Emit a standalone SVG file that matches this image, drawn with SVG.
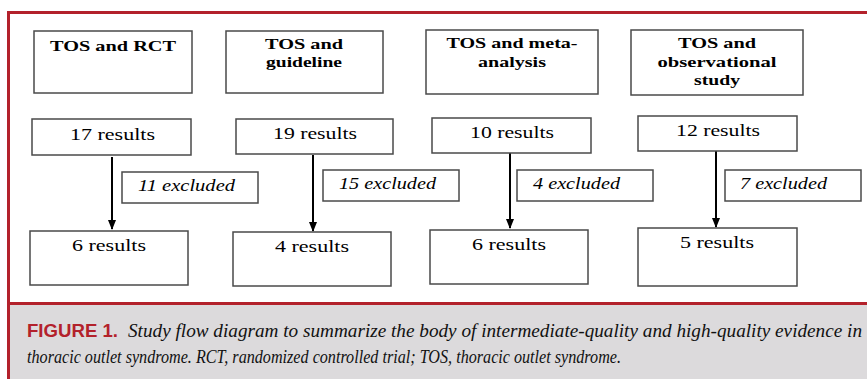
<svg xmlns="http://www.w3.org/2000/svg" width="867" height="379" viewBox="0 0 867 379">
<style>
.box{fill:#fff;stroke:#4a4a4a;stroke-width:1.5}
.sf{font-family:'Liberation Serif','Times New Roman',serif}
.hd{font-weight:bold;font-size:15px;fill:#000;text-anchor:middle}
.rs{font-size:17px;fill:#000;text-anchor:middle}
.ex{font-style:italic;font-size:17px;fill:#000;text-anchor:middle}
.arr{stroke:#000;stroke-width:2;fill:none;marker-end:url(#ah)}
.cap{font-style:italic;font-size:19px;fill:#111}
</style>
<defs>
<marker id="ah" markerWidth="10" markerHeight="8" refX="9" refY="4" orient="auto" markerUnits="userSpaceOnUse">
<path d="M0,0 L10,4 L0,8 Z" fill="#000"/>
</marker>
</defs>
<rect x="0" y="0" width="867" height="379" fill="#fff"/>
<rect x="9" y="305" width="858" height="74" fill="#dcdadc"/>
<path d="M8.5,379 V12.5 H867" fill="none" stroke="#b3212b" stroke-width="3"/>
<line x1="9" y1="303.5" x2="867" y2="303.5" stroke="#b3212b" stroke-width="3"/>

<g id="connectors">
<line class="arr" x1="112" y1="157" x2="112" y2="229"/>
<line class="arr" x1="313" y1="155" x2="313" y2="231"/>
<line class="arr" x1="510" y1="153" x2="510" y2="228"/>
<line class="arr" x1="716" y1="151" x2="716" y2="227"/>
</g>

<g id="h1"><rect class="box" x="34" y="31" width="158" height="62"/><text class="sf hd" x="113" y="51" textLength="126" lengthAdjust="spacingAndGlyphs">TOS and RCT</text></g>
<g id="h2"><rect class="box" x="226" y="31" width="157" height="62"/><text class="sf hd" x="304" y="49" textLength="78" lengthAdjust="spacingAndGlyphs">TOS and</text><text class="sf hd" x="304" y="67" textLength="76" lengthAdjust="spacingAndGlyphs">guideline</text></g>
<g id="h3"><rect class="box" x="426" y="30" width="172" height="64"/><text class="sf hd" x="512" y="48" textLength="131" lengthAdjust="spacingAndGlyphs">TOS and meta-</text><text class="sf hd" x="512" y="67" textLength="68" lengthAdjust="spacingAndGlyphs">analysis</text></g>
<g id="h4"><rect class="box" x="631" y="30" width="172" height="65"/><text class="sf hd" x="717" y="48" textLength="78" lengthAdjust="spacingAndGlyphs">TOS and</text><text class="sf hd" x="717" y="67" textLength="119" lengthAdjust="spacingAndGlyphs">observational</text><text class="sf hd" x="717" y="85" textLength="46" lengthAdjust="spacingAndGlyphs">study</text></g>

<g id="r1"><rect class="box" x="32" y="119" width="159" height="36"/><text class="sf rs" x="112.5" y="140" textLength="85" lengthAdjust="spacingAndGlyphs">17 results</text></g>
<g id="r2"><rect class="box" x="236" y="119" width="157" height="35"/><text class="sf rs" x="315" y="139" textLength="84" lengthAdjust="spacingAndGlyphs">19 results</text></g>
<g id="r3"><rect class="box" x="432" y="118" width="159" height="35"/><text class="sf rs" x="512" y="138" textLength="84" lengthAdjust="spacingAndGlyphs">10 results</text></g>
<g id="r4"><rect class="box" x="638" y="116" width="159" height="35"/><text class="sf rs" x="718" y="136" textLength="84" lengthAdjust="spacingAndGlyphs">12 results</text></g>

<g id="e1"><rect class="box" x="122" y="172" width="136" height="31"/><text class="sf ex" x="186.5" y="191" textLength="97" lengthAdjust="spacingAndGlyphs">11 excluded</text></g>
<g id="e2"><rect class="box" x="323" y="170" width="136" height="31"/><text class="sf ex" x="387.5" y="189" textLength="97" lengthAdjust="spacingAndGlyphs">15 excluded</text></g>
<g id="e3"><rect class="box" x="517" y="170" width="136" height="31"/><text class="sf ex" x="576.5" y="189" textLength="87" lengthAdjust="spacingAndGlyphs">4 excluded</text></g>
<g id="e4"><rect class="box" x="725" y="170" width="136" height="31"/><text class="sf ex" x="783.5" y="189" textLength="87" lengthAdjust="spacingAndGlyphs">7 excluded</text></g>

<g id="f1"><rect class="box" x="30" y="231" width="158" height="54"/><text class="sf rs" x="109" y="251" textLength="74" lengthAdjust="spacingAndGlyphs">6 results</text></g>
<g id="f2"><rect class="box" x="233" y="232" width="158" height="54"/><text class="sf rs" x="312" y="252" textLength="74" lengthAdjust="spacingAndGlyphs">4 results</text></g>
<g id="f3"><rect class="box" x="430" y="230" width="158" height="54"/><text class="sf rs" x="509" y="250" textLength="74" lengthAdjust="spacingAndGlyphs">6 results</text></g>
<g id="f4"><rect class="box" x="638" y="228" width="159" height="58"/><text class="sf rs" x="717" y="248" textLength="74" lengthAdjust="spacingAndGlyphs">5 results</text></g>

<g id="caption">
<text x="27" y="337" font-family="'Liberation Sans',Arial,sans-serif" font-weight="bold" font-size="19" fill="#b3212b" textLength="91" lengthAdjust="spacingAndGlyphs">FIGURE 1.</text>
<text class="sf cap" x="128" y="337" textLength="734" lengthAdjust="spacingAndGlyphs">Study flow diagram to summarize the body of intermediate-quality and high-quality evidence in</text>
<text class="sf cap" x="27" y="363" textLength="594" lengthAdjust="spacingAndGlyphs">thoracic outlet syndrome. RCT, randomized controlled trial; TOS, thoracic outlet syndrome.</text>
</g>
</svg>
